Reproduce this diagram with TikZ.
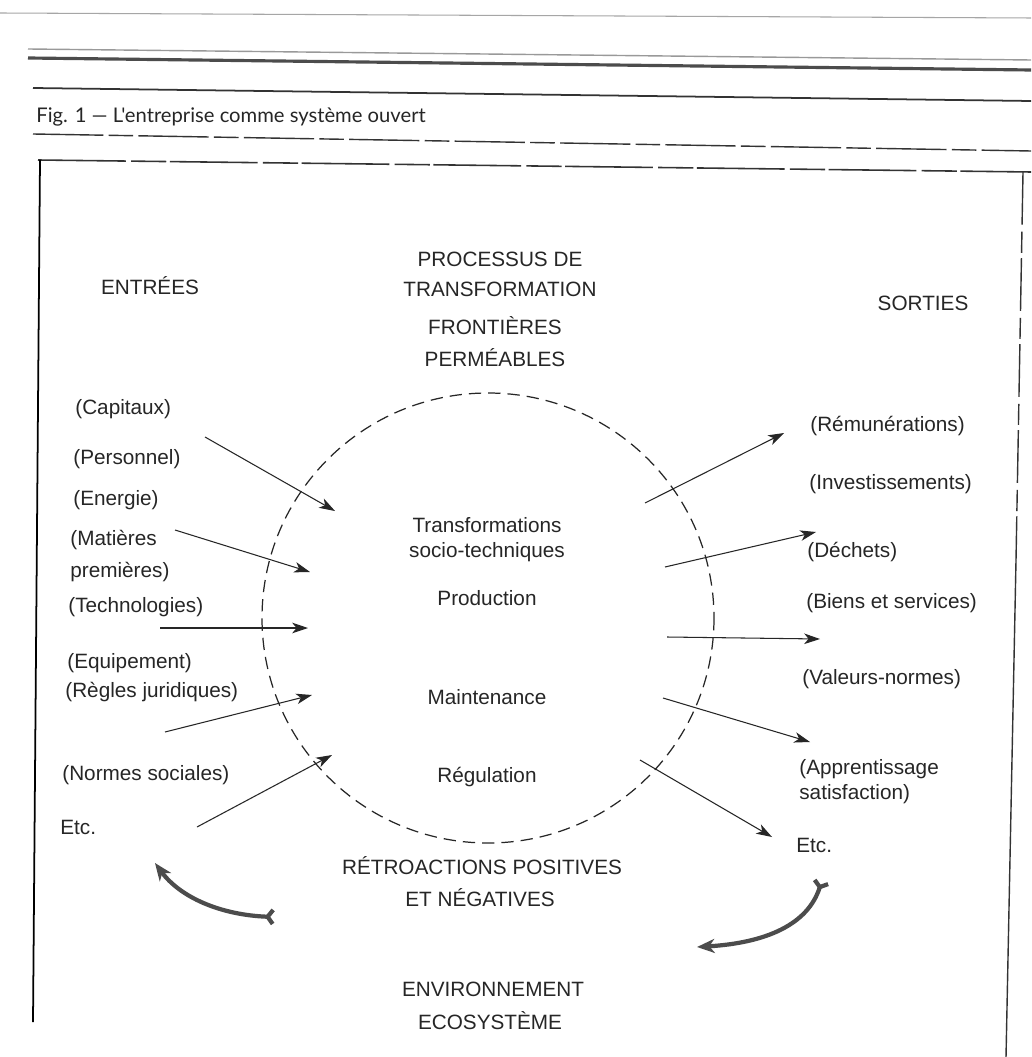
\documentclass[tikz,border=0pt]{standalone}
\usepackage{fontspec}
\setmainfont{Liberation Sans}
\newfontfamily\capfont{Lato}
\usetikzlibrary{arrows.meta}
\begin{document}
\begin{tikzpicture}[x=0.02cm,y=-0.02cm,
  lbl/.style={inner sep=0pt, text=black!85, font=\fontsize{11.8}{14}\selectfont},
  lft/.style={lbl, anchor=mid west},
  ctr/.style={lbl, anchor=mid},
  flow/.style={line width=0.6pt, draw=black!85,
    -{Stealth[length=9pt,width=6pt,inset=2.5pt]}},
  feedback/.style={line width=2.4pt, draw=black!70,
    {Straight Barb[reversed,length=3pt,width=8pt]}-{Stealth[length=10pt,width=8pt,inset=3pt]}},
  frontier/.style={line width=0.7pt, draw=black!85, dash pattern=on 7pt off 4pt},
  rule/.style={draw=black!80},
]
\useasboundingbox (0,0) rectangle (1031,1057);
\fill[white] (0,0) rectangle (1031,1057);

% page rules above the figure
\draw[rule, draw=black!35, line width=0.6pt] (0,13) -- (1031,18);
\draw[rule, draw=black!40, line width=0.8pt] (28,49) -- (1031,60);
\draw[rule, draw=black!70, line width=1.8pt] (28,58) -- (1031,70);
\draw[rule, line width=1pt] (33,88) -- (1031,101);
\node[anchor=mid west, inner sep=0pt, text=black!85,
      font=\capfont\fontsize{11.5}{13}\selectfont] (caption) at (36,118)
  {Fig. 1 — L'entreprise comme système ouvert};
\draw[rule, line width=0.8pt, dash pattern=on 40pt off 3pt on 14pt off 3pt]
  (33,134) -- (1031,151);

% frame of the figure
\draw[rule, line width=0.9pt, dash pattern=on 50pt off 3pt on 20pt off 2pt]
  (38,160) -- (1031,172);
\draw[rule, draw=black, line width=1pt] (40,160) -- (33,1022);
\draw[rule, line width=0.8pt, dash pattern=on 30pt off 4pt on 12pt off 3pt]
  (1023,172) -- (1016,560);
\draw[rule, line width=0.8pt] (1016,560) -- (1006,1057);

% headings
\node[ctr] (entrees) at (150,290) {ENTRÉES};
\node[ctr] (sorties) at (923,306) {SORTIES};
\node[ctr] (proc1) at (500,262) {PROCESSUS DE};
\node[ctr] (proc2) at (500,292) {TRANSFORMATION};
\node[ctr] (front1) at (495,330) {FRONTIÈRES};
\node[ctr] (front2) at (495,362) {PERMÉABLES};

% permeable boundary of the system
\draw[frontier] (488,618) ellipse [x radius=226, y radius=225];

% inside the boundary
\node[ctr] (transf1) at (487,528) {Transformations};
\node[ctr] (transf2) at (487,553) {socio-techniques};
\node[ctr] (prod) at (487,601) {Production};
\node[ctr] (maint) at (487,700) {Maintenance};
\node[ctr] (regul) at (487,778) {Régulation};

% inputs
\node[lft] (capitaux) at (75,410) {(Capitaux)};
\node[lft] (personnel) at (73,460) {(Personnel)};
\node[lft] (energie) at (73,501) {(Energie)};
\node[lft] (matieres1) at (70,541) {(Matières};
\node[lft] (matieres2) at (70,573) {premières)};
\node[lft] (techno) at (68,608) {(Technologies)};
\node[lft] (equip) at (67,664) {(Equipement)};
\node[lft] (regles) at (65,693) {(Règles juridiques)};
\node[lft] (normes) at (62,776) {(Normes sociales)};
\node[lft] (etcin) at (60,830) {Etc.};

% outputs
\node[lft] (remun) at (810,427) {(Rémunérations)};
\node[lft] (invest) at (809,485) {(Investissements)};
\node[lft] (dechets) at (807,553) {(Déchets)};
\node[lft] (biens) at (806,604) {(Biens et services)};
\node[lft] (valeurs) at (802,680) {(Valeurs-normes)};
\node[lft] (appr1) at (799,770) {(Apprentissage};
\node[lft] (appr2) at (799,795) {satisfaction)};
\node[lft] (etcout) at (796,848) {Etc.};

% feedback and environment
\node[ctr] (retro1) at (482,870) {RÉTROACTIONS POSITIVES};
\node[ctr] (retro2) at (480,902) {ET NÉGATIVES};
\node[ctr] (env1) at (493,992) {ENVIRONNEMENT};
\node[ctr] (env2) at (490,1025) {ECOSYSTÈME};

% arrow end points
\coordinate (i1s) at (205,437); \coordinate (i1e) at (335,511);
\coordinate (i2s) at (175,530); \coordinate (i2e) at (310,572);
\coordinate (i3s) at (160,628); \coordinate (i3e) at (308,628);
\coordinate (i4s) at (165,732); \coordinate (i4e) at (312,695);
\coordinate (i5s) at (197,827); \coordinate (i5e) at (332,755);
\coordinate (o1s) at (645,503); \coordinate (o1e) at (784,433);
\coordinate (o2s) at (665,567); \coordinate (o2e) at (816,532);
\coordinate (o3s) at (667,637); \coordinate (o3e) at (820,639);
\coordinate (o4s) at (663,698); \coordinate (o4e) at (810,742);
\coordinate (o5s) at (640,760); \coordinate (o5e) at (772,837);

\foreach \a in {i1,i2,i3,i4,i5,o1,o2,o3,o4,o5}
  \draw[flow] (\a s) -- (\a e);

% feedback loops
\coordinate (fbls) at (275,917); \coordinate (fble) at (155,863);
\coordinate (fbrs) at (822,880); \coordinate (fbre) at (697,947);
\draw[feedback] (fbls) .. controls (220,915) and (180,897) .. (fble);
\draw[feedback] (fbrs) .. controls (808,925) and (765,943) .. (fbre);
\end{tikzpicture}
\end{document}
